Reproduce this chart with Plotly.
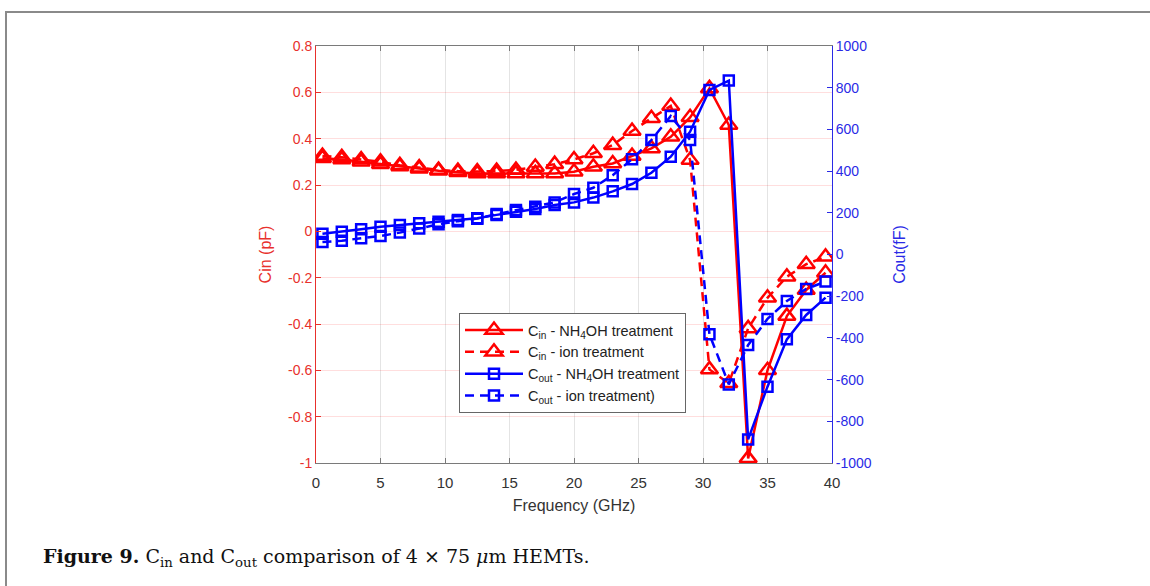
import plotly.graph_objects as go

# Frequency sweep (GHz)
freq = [0.5, 2.0, 3.5, 5.0, 6.5, 8.0, 9.5, 11.0, 12.5, 14.0, 15.5, 17.0, 18.5, 20.0,
        21.5, 23.0, 24.5, 26.0, 27.5, 29.0, 30.5, 32.0, 33.5, 35.0, 36.5, 38.0, 39.5]

# Input capacitance (pF)
cin_nh4oh = [0.315, 0.31, 0.30, 0.29, 0.28, 0.27, 0.262, 0.255, 0.25, 0.25, 0.25, 0.25, 0.25, 0.257,
             0.279, 0.293, 0.325, 0.358, 0.408, 0.492, 0.617, 0.459, -0.98, -0.60, -0.366, -0.253, -0.179]
cin_ion = [0.325, 0.32, 0.31, 0.30, 0.285, 0.275, 0.265, 0.26, 0.258, 0.26, 0.265, 0.278, 0.29, 0.31,
           0.337, 0.372, 0.433, 0.488, 0.541, 0.308, -0.596, -0.656, -0.419, -0.287, -0.196, -0.142, -0.11]

# Output capacitance (fF)
cout_nh4oh = [100, 109, 121, 133, 141, 150, 157, 165, 174, 190, 205, 218, 237, 250,
              273, 303, 338, 392, 469, 589, 789, 834, -887, -634, -407, -290, -207]
cout_ion = [60, 66, 78, 89, 105, 125, 145, 160, 172, 194, 213, 229, 250, 290,
            320, 380, 457, 549, 664, 549, -383, -623, -434, -309, -223, -165, -130]

x_ticks = [0, 5, 10, 15, 20, 25, 30, 35, 40]
left_ticks = [-1, -0.8, -0.6, -0.4, -0.2, 0, 0.2, 0.4, 0.6, 0.8]
left_labels = ["-1", "-0.8", "-0.6", "-0.4", "-0.2", "0", "0.2", "0.4", "0.6", "0.8"]
right_ticks = [-1000, -800, -600, -400, -200, 0, 200, 400, 600, 800, 1000]
right_labels = ["-1000", "-800", "-600", "-400", "-200", "0", "200", "400", "600", "800", "1000"]

RED = "#ff0000"
BLUE = "#0000ff"
RED_TXT = "#e8302c"
BLUE_TXT = "#2a2ae6"
FONT = "Liberation Sans, Arial, sans-serif"

fig = go.Figure()

fig.add_trace(go.Scatter(
    x=freq, y=cin_nh4oh, mode="lines+markers",
    name="C<sub>in</sub> - NH<sub>4</sub>OH treatment",
    line=dict(color=RED, width=2.5),
    marker=dict(symbol="triangle-up-open", size=15, color=RED, line=dict(width=2.5, color=RED)),
))
fig.add_trace(go.Scatter(
    x=freq, y=cin_ion, mode="lines+markers",
    name="C<sub>in</sub> - ion treatment",
    line=dict(color=RED, width=2.5, dash="9px,6px"),
    marker=dict(symbol="triangle-up-open", size=15, color=RED, line=dict(width=2.5, color=RED)),
))
fig.add_trace(go.Scatter(
    x=freq, y=cout_nh4oh, mode="lines+markers", yaxis="y2",
    name="C<sub>out</sub> - NH<sub>4</sub>OH treatment",
    line=dict(color=BLUE, width=2.5),
    marker=dict(symbol="square-open", size=10, color=BLUE, line=dict(width=2.5, color=BLUE)),
))
fig.add_trace(go.Scatter(
    x=freq, y=cout_ion, mode="lines+markers", yaxis="y2",
    name="C<sub>out</sub> - ion treatment)",
    line=dict(color=BLUE, width=2.5, dash="9px,6px"),
    marker=dict(symbol="square-open", size=10, color=BLUE, line=dict(width=2.5, color=BLUE)),
))

# plot area in pixels: left 316, right 832, top 46, bottom 463
L, R, T, B = 316, 832, 46, 463
W, H = 1150, 586
pw, ph = R - L, B - T

def px(xp):
    return (xp - L) / pw

def py(yp):
    return (B - yp) / ph

fig.update_layout(
    width=W, height=H,
    margin=dict(l=L, r=W - R, t=T, b=H - B, pad=0),
    paper_bgcolor="white", plot_bgcolor="white",
    font=dict(family=FONT, size=14, color="#333333"),
    showlegend=True,
    legend=dict(
        x=px(459), y=py(313), xanchor="left", yanchor="top",
        bgcolor="white", bordercolor="#666666", borderwidth=1,
        font=dict(family=FONT, size=14.5, color="#222222"),
        tracegroupgap=0, itemwidth=58,
    ),
    xaxis=dict(
        range=[0, 40], tickvals=x_ticks, ticktext=[str(v) for v in x_ticks],
        showgrid=True, gridcolor="#e4e4e4", gridwidth=1,
        showline=True, linecolor="#7a7a7a", linewidth=1, mirror="ticks",
        ticks="inside", ticklen=5, tickcolor="#7a7a7a",
        zeroline=False, ticklabelstandoff=6,
        tickfont=dict(family=FONT, size=15, color="#333333"),
        title=dict(text="Frequency (GHz)", font=dict(family=FONT, size=16, color="#333333"), standoff=9),
    ),
    yaxis=dict(
        range=[-1, 0.8], tickvals=left_ticks, ticktext=left_labels,
        showgrid=True, gridcolor="rgba(255,0,0,0.13)", gridwidth=1,
        showline=True, linecolor=RED_TXT, linewidth=1,
        ticks="inside", ticklen=5, tickcolor=RED_TXT,
        zeroline=False,
        tickfont=dict(family=FONT, size=14, color=RED_TXT),
        title=dict(text="Cin (pF)", font=dict(family=FONT, size=16, color=RED_TXT), standoff=12),
    ),
    yaxis2=dict(
        range=[-1000, 1000], tickvals=right_ticks, ticktext=right_labels,
        overlaying="y", side="right",
        showgrid=False, showline=True, linecolor=BLUE_TXT, linewidth=1,
        ticks="inside", ticklen=5, tickcolor=BLUE_TXT,
        zeroline=False,
        tickfont=dict(family=FONT, size=14, color=BLUE_TXT),
        title=dict(text="Cout(fF)", font=dict(family=FONT, size=16, color=BLUE_TXT), standoff=22),
    ),
    shapes=[
        dict(type="rect", xref="paper", yref="paper",
             x0=px(6), x1=px(1160), y0=py(600), y1=py(12),
             line=dict(color="#8a8a8a", width=2), fillcolor="rgba(0,0,0,0)", layer="below"),
    ],
    annotations=[
        dict(
            xref="paper", yref="paper", x=px(41), y=py(557),
            xanchor="left", yanchor="middle", showarrow=False,
            text="<b>Figure 9.</b> C<sub>in</sub> and C<sub>out</sub> comparison of 4 × 75 <i>μ</i>m HEMTs.",
            font=dict(family="DejaVu Serif, Liberation Serif, serif", size=19, color="#111111"),
        ),
    ],
)

fig.write_html("out.html")
